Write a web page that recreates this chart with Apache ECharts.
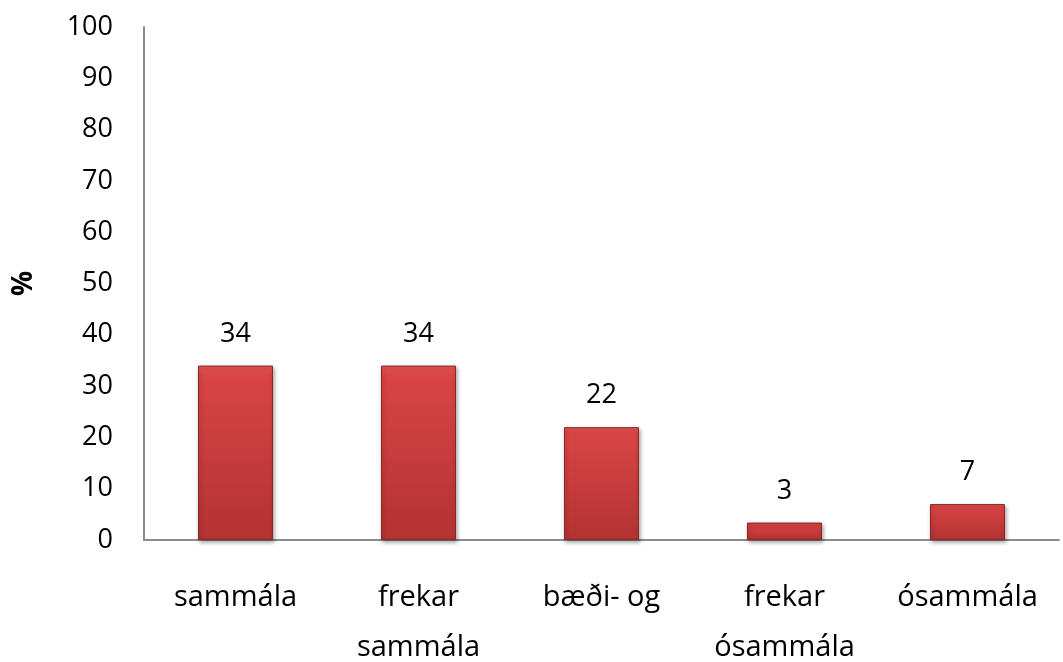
<!DOCTYPE html>
<html>
<head>
<meta charset="utf-8">
<style>
  html, body { margin: 0; padding: 0; background: #ffffff; }
  #container { width: 1063px; height: 662px; }
</style>
<script src="https://cdn.jsdelivr.net/npm/echarts@6/dist/echarts.min.js"></script>
</head>
<body>
<div id="container"></div>
<script>
var dom = document.getElementById('container');
var myChart = echarts.init(dom, null, { renderer: 'canvas' });

// categories and values
var categories = ['sammála', 'frekar\nsammála', 'bæði- og', 'frekar\nósammála', 'ósammála'];
var values = [34, 34, 22, 3.4, 7];
var labels = ['34', '34', '22', '3', '7'];

var fontFamily = '"Open Sans", "Noto Sans", sans-serif';

var option = {
    backgroundColor: '#ffffff',
    animation: false,
    grid: { left: 144, right: 4, top: 27, bottom: 122, outerBoundsMode: 'none' },
    xAxis: {
        type: 'category',
        data: categories,
        axisLine: { lineStyle: { color: '#8c8c8c', width: 2 } },
        axisTick: { show: false },
        axisLabel: {
            color: '#000',
            fontSize: 29,
            fontFamily: fontFamily,
            lineHeight: 50,
            margin: 33,
            interval: 0
        }
    },
    yAxis: {
        type: 'value',
        min: 0,
        max: 100,
        interval: 10,
        name: '%',
        nameLocation: 'middle',
        nameGap: 106,
        nameRotate: 90,
        nameTextStyle: { color: '#000', fontSize: 28, fontWeight: 'bold', fontFamily: fontFamily },
        axisLine: { show: true, lineStyle: { color: '#8c8c8c', width: 2 } },
        axisTick: { show: false },
        splitLine: { show: false },
        axisLabel: { color: '#000', fontSize: 27, fontFamily: fontFamily, margin: 31 }
    },
    series: [
        {
            type: 'bar',
            data: values,
            barWidth: 75,
            itemStyle: {
                color: new echarts.graphic.LinearGradient(0, 0, 0, 1, [
                    { offset: 0, color: '#e35656' },
                    { offset: 0.06, color: '#d94444' },
                    { offset: 1, color: '#b33333' }
                ]),
                borderColor: '#8e2424',
                borderWidth: 1,
                shadowColor: 'rgba(0,0,0,0.35)',
                shadowBlur: 4,
                shadowOffsetX: 1,
                shadowOffsetY: 2
            },
            label: {
                show: true,
                position: 'top',
                distance: 18,
                color: '#000',
                fontSize: 27,
                fontFamily: fontFamily,
                formatter: function (p) { return labels[p.dataIndex]; }
            }
        }
    ]
};

myChart.setOption(option);
window.addEventListener('resize', myChart.resize);
</script>
</body>
</html>
